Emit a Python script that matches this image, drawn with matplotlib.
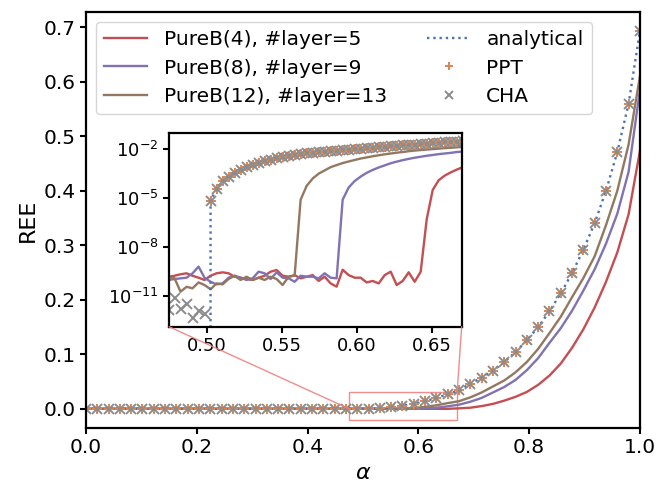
import numpy as np
import matplotlib
matplotlib.use("Agg")
import matplotlib.pyplot as plt
from matplotlib.patches import Rectangle, ConnectionPatch
from matplotlib.ticker import NullLocator

# ---------------- data ----------------
# main panel: alpha grid (50 points from 0 to 1)
alpha_main = np.linspace(0.0, 1.0, 50)

analytical_main = [0.0] * 25 + [
    0.0001, 0.0011, 0.0032, 0.0058, 0.0090, 0.0140, 0.0198, 0.0268, 0.0340,
    0.0460, 0.0570, 0.0700, 0.0860, 0.1040, 0.1260, 0.1500, 0.1790, 0.2120,
    0.2490, 0.2920, 0.3410, 0.4000, 0.4710, 0.5600, 0.6930]
ppt_main = list(analytical_main)
cha_main = list(analytical_main)

pureb4_main = [0.0] * 33 + [
    0.0009, 0.0020, 0.0050, 0.0090, 0.0150, 0.0220, 0.0310, 0.0440, 0.0610,
    0.0830, 0.1120, 0.1460, 0.1860, 0.2330, 0.2870, 0.3570, 0.4730]
pureb8_main = [0.0] * 30 + [
    0.0006, 0.0020, 0.0046, 0.0076, 0.0130, 0.0200, 0.0300, 0.0400, 0.0530,
    0.0710, 0.0930, 0.1210, 0.1480, 0.1800, 0.2170, 0.2560, 0.3030, 0.3580,
    0.4350, 0.5850]
pureb12_main = [0.0] * 28 + [
    0.0002, 0.0014, 0.0036, 0.0065, 0.0105, 0.0140, 0.0210, 0.0300, 0.0410,
    0.0520, 0.0670, 0.0860, 0.1100, 0.1390, 0.1690, 0.2050, 0.2400, 0.2800,
    0.3370, 0.4000, 0.4850, 0.6100]

# inset: fine alpha grid, values given as log10(REE); -inf means REE = 0
alpha_inset = np.round(0.4747 + 0.004 * np.arange(50), 4)
NEG = -np.inf

analytical_inset_log = [NEG] * 7 + [
    -5.15, -4.42, -3.97, -3.70, -3.45, -3.27, -3.12, -2.98, -2.86, -2.74,
    -2.65, -2.56, -2.48, -2.41, -2.35, -2.30, -2.25, -2.22, -2.18, -2.15,
    -2.11, -2.08, -2.05, -2.02, -1.99, -1.96, -1.93, -1.90, -1.87, -1.84,
    -1.81, -1.79, -1.76, -1.73, -1.71, -1.68, -1.65, -1.63, -1.60, -1.58,
    -1.55, -1.53, -1.51]
ppt_inset_log = list(analytical_inset_log)
cha_inset_log = [-11.88, -11.16, -11.82, -11.53, -12.35, -11.94, -12.14] + analytical_inset_log[7:]

pureb4_inset_log = [
    -9.83, -9.77, -9.68, -9.62, -9.77, -9.89, -10.03, -9.77, -9.62, -9.56,
    -9.62, -9.83, -9.89, -9.97, -10.03, -9.89, -9.77, -9.52, -9.42, -9.77,
    -9.83, -9.73, -9.93, -9.83, -9.73, -10.09, -9.83, -10.24, -10.44, -9.40,
    -9.73, -9.89, -9.89, -10.18, -10.09, -10.24, -9.73, -9.52, -10.34, -10.09,
    -9.56, -10.14, -9.52, -6.30, -4.50, -3.90, -3.62, -3.42, -3.25, -3.10]
pureb8_inset_log = [
    -10.03, -9.97, -9.93, -9.89, -9.62, -9.21, -9.89, -10.14, -10.30, -10.24,
    -9.89, -9.77, -9.89, -10.03, -9.93, -9.52, -9.62, -9.97, -9.56, -9.89,
    -9.93, -10.14, -9.77, -9.83, -9.83, -9.93, -9.62, -9.89, -9.93, -5.10,
    -4.35, -3.95, -3.68, -3.45, -3.27, -3.12, -2.99, -2.86, -2.76, -2.67,
    -2.59, -2.52, -2.46, -2.40, -2.35, -2.30, -2.26, -2.22, -2.17, -2.14]
pureb12_inset_log = [
    -9.83, -9.93, -10.75, -10.45, -10.54, -10.18, -10.34, -10.60, -10.24, -10.30,
    -9.97, -9.77, -10.03, -9.83, -10.03, -9.89, -10.03, -9.83, -9.97, -10.34,
    -9.83, -9.77, -5.10, -4.25, -3.80, -3.50, -3.30, -3.10, -2.97, -2.85,
    -2.75, -2.66, -2.57, -2.50, -2.43, -2.37, -2.31, -2.26, -2.21, -2.17,
    -2.12, -2.08, -2.05, -2.02, -1.99, -1.96, -1.93, -1.91, -1.88, -1.86]

labels = ["PureB(4), #layer=5", "PureB(8), #layer=9", "PureB(12), #layer=13"]

# ---------------- style ----------------
C_RED = "#C44E52"
C_PURPLE = "#8172B3"
C_BROWN = "#937860"
C_BLUE = "#4C72B0"
C_ORANGE = "#DD8452"
C_GRAY = "#8C8C8C"

plt.rcParams["font.family"] = ["DejaVu Sans"]
plt.rcParams["axes.linewidth"] = 1.6
plt.rcParams["xtick.major.width"] = 1.5
plt.rcParams["ytick.major.width"] = 1.5
plt.rcParams["xtick.major.size"] = 4
plt.rcParams["ytick.major.size"] = 4

fig = plt.figure(figsize=(6.69, 4.83), dpi=100)
ax = fig.add_axes([0.1285, 0.1145, 0.828, 0.860])

lw = 1.7
ms = 7.5
mew = 1.4
ax.plot(alpha_main, pureb4_main, color=C_RED, lw=lw, label=labels[0])
ax.plot(alpha_main, pureb8_main, color=C_PURPLE, lw=lw, label=labels[1])
ax.plot(alpha_main, pureb12_main, color=C_BROWN, lw=lw, label=labels[2])
ax.plot(alpha_main, analytical_main, color=C_BLUE, lw=lw, ls=":", label="analytical")
ax.plot(alpha_main, ppt_main, ls="none", marker="+", ms=ms, mew=mew, color=C_ORANGE, label="PPT")
ax.plot(alpha_main, cha_main, ls="none", marker="x", ms=ms, mew=mew, color=C_GRAY, label="CHA")

ax.set_xlim(0, 1)
ax.set_xticks([0.0, 0.2, 0.4, 0.6, 0.8, 1.0])
ax.set_yticks([0.0, 0.1, 0.2, 0.3, 0.4, 0.5, 0.6, 0.7])
ax.tick_params(labelsize=14.5)
ax.set_xlabel(r"$\alpha$", fontsize=16)
ax.set_ylabel("REE", fontsize=16)

ax.legend(loc="upper left", ncol=2, fontsize=14.5, handlelength=2.15,
          columnspacing=2.0, borderaxespad=0.5, labelspacing=0.45,
          markerscale=0.85)

# inset
axins = fig.add_axes([0.2526, 0.3236, 0.4375, 0.4004])
axins.set_yscale("log", nonpositive="clip")
axins.plot(alpha_inset, 10.0 ** np.array(pureb4_inset_log), color=C_RED, lw=lw)
axins.plot(alpha_inset, 10.0 ** np.array(pureb8_inset_log), color=C_PURPLE, lw=lw)
axins.plot(alpha_inset, 10.0 ** np.array(pureb12_inset_log), color=C_BROWN, lw=lw)
axins.plot(alpha_inset, 10.0 ** np.array(analytical_inset_log), color=C_BLUE, lw=lw, ls=":")
axins.plot(alpha_inset, 10.0 ** np.array(ppt_inset_log), ls="none", marker="+", ms=ms, mew=mew, color=C_ORANGE)
axins.plot(alpha_inset, 10.0 ** np.array(cha_inset_log), ls="none", marker="x", ms=ms, mew=mew, color=C_GRAY)
axins.set_xlim(0.475, 0.67)
axins.set_ylim(10 ** -12.9, 10 ** -1.02)
axins.set_xticks([0.50, 0.55, 0.60, 0.65])
axins.set_xticklabels(["0.50", "0.55", "0.60", "0.65"])
axins.set_yticks([1e-11, 1e-8, 1e-5, 1e-2])
axins.yaxis.set_minor_locator(NullLocator())
axins.tick_params(labelsize=13)

# zoom indicator
rect = Rectangle((0.475, -0.02), 0.195, 0.05, fill=False, edgecolor="#F08080", lw=1.0, alpha=0.9)
ax.add_patch(rect)
for xyA, xyB in [((0, 0), (0.475, 0.0)), ((1, 0), (0.67, 0.03))]:
    con = ConnectionPatch(xyA=xyA, coordsA=axins.transAxes, xyB=xyB, coordsB=ax.transData,
                          color="#F08080", lw=1.0, alpha=0.9)
    fig.add_artist(con)

fig.savefig("out.png", dpi=100)
